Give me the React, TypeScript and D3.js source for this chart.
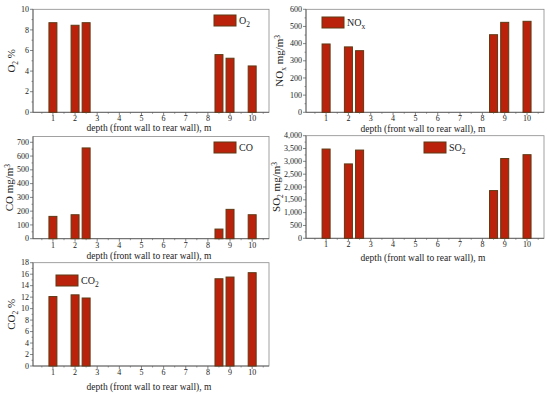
import React from "react";
import * as d3 from "d3";

const positions = [1, 2, 2.5, 8.5, 9, 10];
const xTicks = [1, 2, 3, 4, 5, 6, 7, 8, 9, 10];
const o2Values = [8.7, 8.45, 8.7, 5.6, 5.25, 4.5];
const noxValues = [398, 381, 359, 452, 524, 530];
const coValues = [162, 174, 659, 70, 213, 174];
const so2Values = [3480, 2900, 3440, 1860, 3110, 3260];
const co2Values = [12.1, 12.4, 11.85, 15.2, 15.5, 16.26];
const o2Ticks = [0, 2, 4, 6, 8, 10];
const noxTicks = [0, 100, 200, 300, 400, 500, 600];
const coTicks = [0, 100, 200, 300, 400, 500, 600, 700];
const so2Ticks = [0, 500, 1000, 1500, 2000, 2500, 3000, 3500, 4000];
const co2Ticks = [0, 2, 4, 6, 8, 10, 12, 14, 16, 18];

const FONT = "'Liberation Serif', 'DejaVu Serif', 'Times New Roman', serif";
const BAR_FILL = "#bb220c";
const BAR_STROKE = "#5e3a14";

type PanelProps = {
  left: number;
  right: number;
  top: number;
  bottom: number;
  yMax: number;
  values: number[];
  ticks: number[];
  fmt: (v: number) => string;
  yLabel: React.ReactNode;
  yLabelX: number;
  legend: React.ReactNode;
  legendX: number;
  legendY: number;
  xTitleY: number;
};

function Panel(p: PanelProps) {
  const x = d3.scaleLinear().domain([0.1, 10.76]).range([p.left, p.right]);
  const y = d3.scaleLinear().domain([0, p.yMax]).range([p.bottom, p.top]);
  const bw = x(1.36) - x(1);
  const halfTicks = d3.range(0.5, 10.6, 1);
  return (
    <g>
      <rect x={p.left} y={p.top} width={p.right - p.left} height={p.bottom - p.top} fill="none" stroke="#8a8a8a" strokeWidth={0.8} />
      <line x1={p.left} x2={p.left} y1={p.top} y2={p.bottom} stroke="#555" strokeWidth={0.8} />
      <line x1={p.left} x2={p.right} y1={p.bottom} y2={p.bottom} stroke="#555" strokeWidth={0.8} />
      {positions.map((pos, i) => (
        <rect key={i} x={x(pos) - bw / 2} y={y(p.values[i])} width={bw} height={p.bottom - y(p.values[i])} fill={BAR_FILL} stroke={BAR_STROKE} strokeWidth={1} />
      ))}
      {p.ticks.map((t) => (
        <g key={t}>
          <line x1={p.left - 3} x2={p.left} y1={y(t)} y2={y(t)} stroke="#555" strokeWidth={0.7} />
          <text x={p.left - 4} y={y(t)} dy="0.33em" textAnchor="end" fontSize={8} fontFamily={FONT} fill="#222">{p.fmt(t)}</text>
        </g>
      ))}
      {p.ticks.slice(0, -1).map((t, i) => (
        <line key={"m" + i} x1={p.left - 1.5} x2={p.left} y1={y((t + p.ticks[i + 1]) / 2)} y2={y((t + p.ticks[i + 1]) / 2)} stroke="#555" strokeWidth={0.6} />
      ))}
      {xTicks.map((t) => (
        <g key={t}>
          <line x1={x(t)} x2={x(t)} y1={p.bottom} y2={p.bottom + 3} stroke="#555" strokeWidth={0.7} />
          <text x={x(t)} y={p.bottom + 9} textAnchor="middle" fontSize={8} fontFamily={FONT} fill="#222">{t}</text>
        </g>
      ))}
      {halfTicks.map((t, i) => (
        <line key={"h" + i} x1={x(t)} x2={x(t)} y1={p.bottom} y2={p.bottom + 1.5} stroke="#555" strokeWidth={0.6} />
      ))}
      <text x={(p.left + p.right) / 2 - 2} y={p.xTitleY} textAnchor="middle" fontSize={9.5} fontFamily={FONT} fill="#222">depth (front wall to rear wall), m</text>
      <text transform={`translate(${p.yLabelX},${(p.top + p.bottom) / 2}) rotate(-90)`} textAnchor="middle" fontSize={11} fontFamily={FONT} fill="#222">{p.yLabel}</text>
      <rect x={p.legendX} y={p.legendY} width={22} height={11} fill={BAR_FILL} stroke={BAR_STROKE} strokeWidth={1} />
      <text x={p.legendX + 25} y={p.legendY + 9} fontSize={10} fontFamily={FONT} fill="#222">{p.legend}</text>
    </g>
  );
}

const intFmt = (v: number) => String(v);
const commaFmt = d3.format(",");

export default function App() {
  const sub = (s: string) => <tspan fontSize={7.5} dy={2.5}>{s}</tspan>;
  return (
    <svg width={550} height={397} style={{ position: "absolute", left: 0, top: 0, background: "#fff" }}>
      <Panel left={33} right={269} top={9.3} bottom={112.3} yMax={10} values={o2Values} ticks={o2Ticks} fmt={intFmt}
        yLabel={<>O{sub("2")}<tspan dy={-2.5} fontSize={11}>{"  %"}</tspan></>} yLabelX={15}
        legend={<>O{sub("2")}</>} legendX={214} legendY={15} xTitleY={131} />
      <Panel left={306} right={544} top={9.3} bottom={112.3} yMax={600} values={noxValues} ticks={noxTicks} fmt={intFmt}
        yLabel={<>NO{sub("x")}<tspan dy={-2.5} fontSize={11}>{"  mg/m"}</tspan><tspan fontSize={7.5} dy={-3}>3</tspan></>} yLabelX={283}
        legend={<>NO{sub("x")}</>} legendX={322} legendY={17} xTitleY={131.5} />
      <Panel left={33} right={269} top={136.5} bottom={238.7} yMax={742} values={coValues} ticks={coTicks} fmt={intFmt}
        yLabel={<>CO<tspan>{"  mg/m"}</tspan><tspan fontSize={7.5} dy={-3}>3</tspan></>} yLabelX={13}
        legend={<>CO</>} legendX={214} legendY={142} xTitleY={259} />
      <Panel left={306} right={544} top={135.7} bottom={238.3} yMax={4000} values={so2Values} ticks={so2Ticks} fmt={commaFmt}
        yLabel={<>SO{sub("2")}<tspan dy={-2.5} fontSize={11}>{"  mg/m"}</tspan><tspan fontSize={7.5} dy={-3}>3</tspan></>} yLabelX={280}
        legend={<>SO{sub("2")}</>} legendX={424} legendY={142} xTitleY={261} />
      <Panel left={33} right={269} top={262.7} bottom={366} yMax={18} values={co2Values} ticks={co2Ticks} fmt={intFmt}
        yLabel={<>CO{sub("2")}<tspan dy={-2.5} fontSize={11}>{"  %"}</tspan></>} yLabelX={15}
        legend={<>CO{sub("2")}</>} legendX={56} legendY={275} xTitleY={390} />
    </svg>
  );
}
